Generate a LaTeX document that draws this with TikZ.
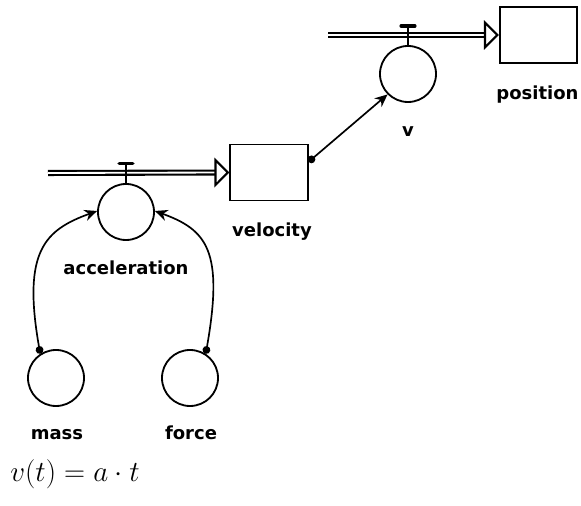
\documentclass[tikz,border=0pt]{standalone}
\usepackage{fontspec}
\setsansfont{DejaVu Sans}
\usetikzlibrary{arrows.meta,calc,positioning}
\tikzset{
  stock/.style={draw, line width=1.3pt, minimum width=1.93cm, minimum height=1.4cm, inner sep=0pt},
  aux/.style={draw, circle, line width=1.3pt, minimum size=1.4cm, inner sep=0pt},
  pipe/.style={double, double distance=1.3pt, line width=1.5pt, -{Triangle[open, length=10.7pt, width=21pt]}},
  valve/.style={line width=2.6pt, line cap=round},
  lbl/.style={font=\sffamily\bfseries\fontsize{12.8}{14}\selectfont, anchor=base, inner sep=0pt},
  link/.style={line width=1.2pt, {Circle[length=5.5pt]}-{Stealth[length=9pt, width=8pt]}},
}
\begin{document}
\begin{tikzpicture}[x=0.025cm, y=0.025cm]
 \useasboundingbox (0,0) rectangle (581,506);
 % stocks and converters
 \node[stock] (pos) at (538.5,471) {};
 \node[stock] (vel) at (269,333.5) {};
 \node[aux] (v) at (408,432) {};
 \node[aux] (acc) at (126,294) {};
 \node[aux] (mass) at (56,128) {};
 \node[aux] (force) at (190,128) {};
 \coordinate (s1) at (328,471);
 \coordinate (s2) at (48,333);
 \coordinate (t1) at (v.north |- pos.west);
 \coordinate (t2) at (acc.north |- vel.west);
 \coordinate[above=6.4pt of t1] (h1);
 \coordinate[above=6.4pt of t2] (h2);
 %
 \draw[pipe] (s1) -- (pos.west);
 \draw[pipe] (s2) -- (vel.west);
 \draw[line width=1.3pt] (v.north) -- (h1);
 \draw[line width=1.3pt] (acc.north) -- (h2);
 \draw[valve] ([xshift=-4.8pt]h1) -- ([xshift=4.8pt]h1);
 \draw[valve] ([xshift=-4.8pt]h2) -- ([xshift=4.8pt]h2);
 %
 \draw[link] (vel.15) -- (v.225);
 \draw[link] (mass.123) .. controls +(100:105) and +(200:55) .. (acc.178);
 \draw[link] (force.57) .. controls +(80:105) and +(-20:55) .. (acc.2);
 %
 \node[lbl] (poslbl) at ($(pos)+(-1,-65)$) {position};
 \node[lbl] (vlbl) at ($(v)+(0,-63)$) {v};
 \node[lbl] (vellbl) at ($(vel)+(3,-64.5)$) {velocity};
 \node[lbl] (acclbl) at ($(acc)+(0,-63)$) {acceleration};
 \node[lbl] (masslbl) at ($(mass)+(1,-62)$) {mass};
 \node[lbl] (forcelbl) at ($(force)+(1,-62)$) {force};
 \node[anchor=base west, inner sep=0pt, font=\fontsize{21}{25}\selectfont] (eq) at (10,24) {$v(t)=a\cdot t$};
\end{tikzpicture}
\end{document}
